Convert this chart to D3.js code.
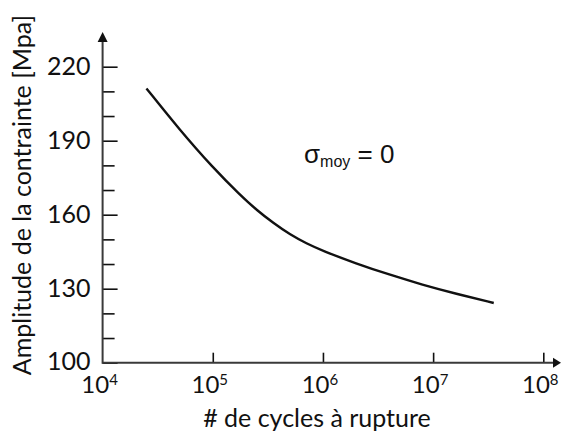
<!DOCTYPE html>
<html><head><meta charset="utf-8">
<script src="https://cdn.jsdelivr.net/npm/d3@7"></script>
<style>body{margin:0;background:#fff}svg{display:block}</style>
</head><body>
<svg id="c" width="561" height="435"></svg>
<script>
// Data (cycles N, stress amplitude in MPa)
const cycles = [2.5e4, 5e4, 1e5, 1.78e5, 2.5e5, 3.55e5, 5e5, 7.1e5, 1e6, 2e6, 4e6, 8e6, 1.6e7, 3.55e7];
const amplitude = [211.2, 194.4, 179.1, 167.9, 161.9, 156.6, 152.0, 148.3, 145.3, 140.2, 135.7, 131.6, 128.0, 124.2];
const yMajorTicks = [100, 130, 160, 190, 220];
const yMinorTicks = [110, 120, 140, 150, 170, 180, 200, 210];
const xTickExponents = [4, 5, 6, 7, 8];
const xTitle = "# de cycles à rupture";
const yTitle = "Amplitude de la contrainte [Mpa]";

const svg = d3.select("#c");
const font = "Lato, 'Open Sans', sans-serif";

const x = d3.scaleLog().domain([1e4, 1e8]).range([102.6, 543.3]);
const y = d3.scaleLinear().domain([100, 220]).range([362.7, 66.7]);

const axisColor = "#3a3a3a";

// Y axis major ticks (inside) with labels on left
const yAx = svg.append("g").attr("transform", `translate(${x(1e4)},0)`)
  .call(d3.axisLeft(y).tickValues(yMajorTicks).tickSize(-15).tickPadding(12));
yAx.select(".domain").remove();
yAx.selectAll("line").attr("stroke", "#111").attr("stroke-width", 1.6);
yAx.selectAll("text").attr("font-family", font).attr("font-size", 25).attr("fill", "#111")
  .attr("dy", d => d === 100 ? "0.28em" : "0.32em");

const yMin = svg.append("g").attr("transform", `translate(${x(1e4)},0)`)
  .call(d3.axisLeft(y).tickValues(yMinorTicks).tickSize(-12).tickFormat(""));
yMin.select(".domain").remove();
yMin.selectAll("line").attr("stroke", "#111").attr("stroke-width", 1.6);

// X axis ticks (upward)
const xVals = xTickExponents.map(e => Math.pow(10, e));
const xAx = svg.append("g").attr("transform", `translate(0,${y(100)})`)
  .call(d3.axisBottom(x).tickValues(xVals.slice(1)).tickSize(-10).tickFormat(""));
xAx.select(".domain").remove();
xAx.selectAll("line").attr("stroke", "#111").attr("stroke-width", 1.6);

// X tick labels with superscripts
xVals.forEach((v, i) => {
  const t = svg.append("text")
    .attr("x", x(v) - 3).attr("y", 393)
    .attr("text-anchor", "middle")
    .attr("font-family", font).attr("font-size", 24).attr("fill", "#111");
  t.append("tspan").text("10");
  t.append("tspan").attr("font-size", 15).attr("dy", -8).text(xTickExponents[i]);
});

// Axis lines with arrows
const x0 = x(1e4), y0 = y(100);
svg.append("path").attr("d", `M${x0},${y0}H555`).attr("stroke", axisColor).attr("stroke-width", 2).attr("fill", "none");
svg.append("path").attr("d", `M553,${y0-5}L561,${y0}L553,${y0+5}Z`).attr("fill", "#111");
svg.append("path").attr("d", `M${x0},${y0+1}V40`).attr("stroke", axisColor).attr("stroke-width", 2).attr("fill", "none");
svg.append("path").attr("d", `M${x0-5},42L${x0},32L${x0+5},42Z`).attr("fill", "#111");

// Curve
const line = d3.line()
  .x((d, i) => x(cycles[i]))
  .y((d, i) => y(amplitude[i]))
  .curve(d3.curveBasis);
svg.append("path").datum(amplitude).attr("d", line)
  .attr("fill", "none").attr("stroke", "#111").attr("stroke-width", 2.4);

// Titles
svg.append("text").attr("x", 317).attr("y", 427).attr("text-anchor", "middle")
  .attr("font-family", font).attr("font-size", 25).attr("fill", "#111").text(xTitle);
svg.append("text").attr("transform", "translate(31,195) rotate(-90)").attr("text-anchor", "middle")
  .attr("font-family", font).attr("font-size", 25).attr("fill", "#111").text(yTitle);

// Annotation
const ann = svg.append("text").attr("x", 304).attr("y", 163)
  .attr("font-family", "'Liberation Sans', Arial, sans-serif").attr("font-size", 26).attr("fill", "#111");
ann.append("tspan").text("σ");
ann.append("tspan").attr("font-size", 16).attr("dy", 4).text("moy");
ann.append("tspan").attr("dy", -4).text(" = 0");
</script>
</body></html>
